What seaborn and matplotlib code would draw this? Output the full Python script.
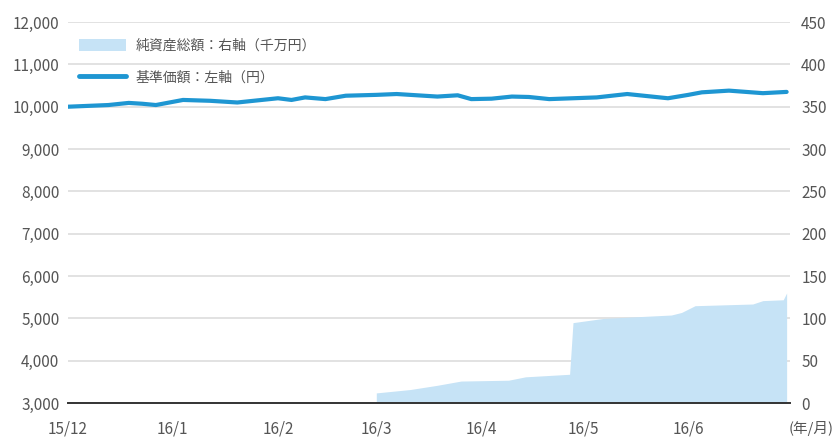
import pandas as pd
import matplotlib
matplotlib.use("Agg")
import matplotlib.pyplot as plt
import seaborn as sns
from matplotlib.patches import Patch
from matplotlib.lines import Line2D

# ---------------------------------------------------
# DATA
# ---------------------------------------------------

nav_dates = [
    "2015-12-01", "2015-12-07", "2015-12-13", "2015-12-19", "2015-12-23",
    "2015-12-27", "2016-01-04", "2016-01-12", "2016-01-20", "2016-01-26",
    "2016-02-01", "2016-02-05", "2016-02-09", "2016-02-15", "2016-02-21",
    "2016-03-01", "2016-03-07", "2016-03-13", "2016-03-19", "2016-03-25",
    "2016-03-29", "2016-04-04", "2016-04-10", "2016-04-15", "2016-04-21",
    "2016-04-28", "2016-05-05", "2016-05-14", "2016-05-20", "2016-05-26",
    "2016-06-01", "2016-06-05", "2016-06-13", "2016-06-18", "2016-06-23",
    "2016-06-30",
]
nav_values = [
    10000, 10020, 10040, 10090, 10070,
    10040, 10160, 10140, 10100, 10150,
    10200, 10160, 10220, 10180, 10260,
    10280, 10300, 10270, 10240, 10270,
    10180, 10190, 10240, 10230, 10180,
    10200, 10220, 10300, 10250, 10200,
    10280, 10340, 10380, 10350, 10320,
    10350,
]

asset_dates = [
    "2015-12-01", "2016-03-01", "2016-03-01", "2016-03-11", "2016-03-19",
    "2016-03-26", "2016-04-09", "2016-04-14", "2016-04-27", "2016-04-28",
    "2016-05-07", "2016-05-27", "2016-05-30", "2016-06-03", "2016-06-20",
    "2016-06-23", "2016-06-29", "2016-06-30",
]
asset_values = [
    0, 0, 12, 16, 21,
    26, 27, 31, 34, 95,
    100, 104, 107, 115, 117,
    121, 122, 130,
]

month_ticks = ["2015-12-01", "2016-01-01", "2016-02-01", "2016-03-01",
               "2016-04-01", "2016-05-01", "2016-06-01"]
month_labels = ["15/12", "16/1", "16/2", "16/3", "16/4", "16/5", "16/6"]

nav = pd.DataFrame({"date": pd.to_datetime(nav_dates), "value": nav_values})
assets = pd.DataFrame({"date": pd.to_datetime(asset_dates), "value": asset_values})

# ---------------------------------------------------
# STYLE
# ---------------------------------------------------

sns.set_style("white")
plt.rcParams["font.family"] = ["Noto Sans CJK JP", "DejaVu Sans"]

line_color = "#1E96D2"
area_color = "#C6E3F6"
text_color = "#555555"

fig, ax = plt.subplots(figsize=(8.36, 4.41), dpi=100)
fig.subplots_adjust(left=0.081, right=0.945, bottom=0.086, top=0.950)
ax2 = ax.twinx()

# left axis on top so the line covers the area
ax.set_zorder(ax2.get_zorder() + 1)
ax.patch.set_visible(False)

# ---------------------------------------------------
# AREA : net assets (right axis)
# ---------------------------------------------------

ax2.fill_between(assets["date"], 0, assets["value"],
                 color=area_color, linewidth=0, zorder=2)
ax2.set_ylim(0, 450)
ax2.set_yticks(range(0, 451, 50))
ax2.grid(axis="y", color="#DDDDDD", linewidth=1.2, zorder=0)
ax2.set_axisbelow(True)

# ---------------------------------------------------
# LINE : base price (left axis)
# ---------------------------------------------------

sns.lineplot(data=nav, x="date", y="value", ax=ax,
             color=line_color, linewidth=3.0, legend=False)
ax.set_ylim(3000, 12000)
ax.set_yticks(range(3000, 12001, 1000))
ax.set_yticklabels([f"{v:,}" for v in range(3000, 12001, 1000)])
ax.set_xlabel("")
ax.set_ylabel("")

ax.set_xlim(pd.Timestamp("2015-12-01"), pd.Timestamp("2016-07-01"))
ax.set_xticks(pd.to_datetime(month_ticks))
ax.set_xticklabels(month_labels)

for a in (ax, ax2):
    for side in ("top", "left", "right", "bottom"):
        a.spines[side].set_visible(False)

ax.spines["bottom"].set_visible(True)
ax.spines["bottom"].set_color("#333333")
ax.spines["bottom"].set_linewidth(1.4)

ax.tick_params(axis="x", direction="inout", length=7, width=1.4,
               color="#333333", labelsize=11, labelcolor=text_color, pad=9)
ax.tick_params(axis="y", length=0, labelsize=11, labelcolor=text_color, pad=6)
ax2.tick_params(axis="y", length=0, labelsize=11, labelcolor=text_color, pad=8)

fig.text(0.997, 0.028, "(年/月)", ha="right", va="center",
         fontsize=10.5, color=text_color)

# ---------------------------------------------------
# LEGEND
# ---------------------------------------------------

handles = [
    Patch(facecolor=area_color, edgecolor="none"),
    Line2D([0], [0], color=line_color, linewidth=3.5),
]
labels = ["純資産総額：右軸（千万円）", "基準価額：左軸（円）"]
ax.legend(handles, labels, loc="upper left", bbox_to_anchor=(0.0, 0.985),
          frameon=False, fontsize=10, labelcolor=text_color,
          handlelength=3.4, handleheight=1.0, labelspacing=1.3,
          handletextpad=0.7, borderpad=0.3)

fig.savefig("out.png", dpi=100)
